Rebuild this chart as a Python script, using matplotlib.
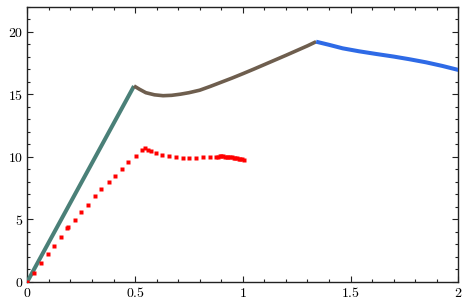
import matplotlib
matplotlib.use("Agg")
import matplotlib.pyplot as plt
from matplotlib.ticker import MultipleLocator, FuncFormatter

plt.rcParams['mathtext.fontset'] = 'cm'

# Data
green_x = [0.0, 0.495]
green_y = [0.0, 15.65]

brown_x = [0.495, 0.52, 0.55, 0.59, 0.63, 0.67, 0.71, 0.75, 0.80, 0.85,
           0.90, 0.95, 1.00, 1.05, 1.10, 1.15, 1.20, 1.25, 1.30, 1.34]
brown_y = [15.66, 15.40, 15.12, 14.95, 14.88, 14.91, 15.00, 15.12, 15.32, 15.63,
           15.96, 16.29, 16.64, 17.00, 17.37, 17.74, 18.11, 18.49, 18.87, 19.20]

blue_x = [1.340, 1.400, 1.463, 1.540, 1.618, 1.700, 1.772, 1.850, 1.926, 2.0]
blue_y = [19.2, 18.95, 18.67, 18.43, 18.22, 18.01, 17.80, 17.55, 17.26, 16.94]

red_x = [0.0, 0.029, 0.062, 0.094, 0.125, 0.158, 0.184, 0.190, 0.219, 0.250,
         0.281, 0.313, 0.344, 0.378, 0.407, 0.438, 0.469, 0.502, 0.533, 0.547,
         0.562, 0.572, 0.596, 0.627, 0.658, 0.690, 0.721, 0.752, 0.784, 0.817,
         0.847, 0.877, 0.885, 0.893, 0.901, 0.909, 0.917, 0.925, 0.933, 0.941,
         0.949, 0.957, 0.965, 0.973, 0.981, 0.989, 0.997, 1.004]
red_y = [0.0, 0.72, 1.47, 2.19, 2.88, 3.60, 4.30, 4.40, 4.94, 5.55,
         6.16, 6.88, 7.39, 7.95, 8.48, 9.02, 9.55, 10.06, 10.52, 10.70,
         10.55, 10.45, 10.30, 10.15, 10.06, 9.99, 9.93, 9.92, 9.92, 9.95,
         9.98, 10.00, 10.01, 10.02, 10.02, 10.02, 10.01, 10.00, 9.98, 9.96,
         9.94, 9.92, 9.90, 9.88, 9.85, 9.82, 9.79, 9.76]

fig = plt.figure(figsize=(4.66, 3.03), dpi=100)
ax = fig.add_axes([0.0586, 0.0703, 0.925, 0.9076])

ax.plot(green_x, green_y, color='#4a8078', lw=2.9, solid_capstyle='butt', zorder=3)
ax.plot(brown_x, brown_y, color='#6e5e4e', lw=2.6, solid_capstyle='butt',
        solid_joinstyle='round', zorder=3)
ax.plot(blue_x, blue_y, color='#2e6ae6', lw=2.9, solid_capstyle='butt',
        solid_joinstyle='round', zorder=3)
ax.plot(red_x, red_y, ls='none', marker='s', ms=3.0, color='#ff0000', mec='none', zorder=4)

ax.set_xlim(0, 2)
ax.set_ylim(0, 22)

ax.xaxis.set_major_locator(MultipleLocator(0.5))
ax.xaxis.set_minor_locator(MultipleLocator(0.1))
ax.yaxis.set_major_locator(MultipleLocator(5))
ax.yaxis.set_minor_locator(MultipleLocator(1))

def fmt(v, pos):
    return '$' + ('%g' % v) + '$'
ax.xaxis.set_major_formatter(FuncFormatter(fmt))
ax.yaxis.set_major_formatter(FuncFormatter(fmt))

ax.tick_params(which='both', direction='in', top=True, right=True, color='#222222', width=0.8)
ax.tick_params(which='major', length=4, labelsize=10, pad=3)
ax.tick_params(which='minor', length=2)
for s in ax.spines.values():
    s.set_linewidth(1.0)
    s.set_color('#222222')

fig.savefig('out.png', dpi=100)
